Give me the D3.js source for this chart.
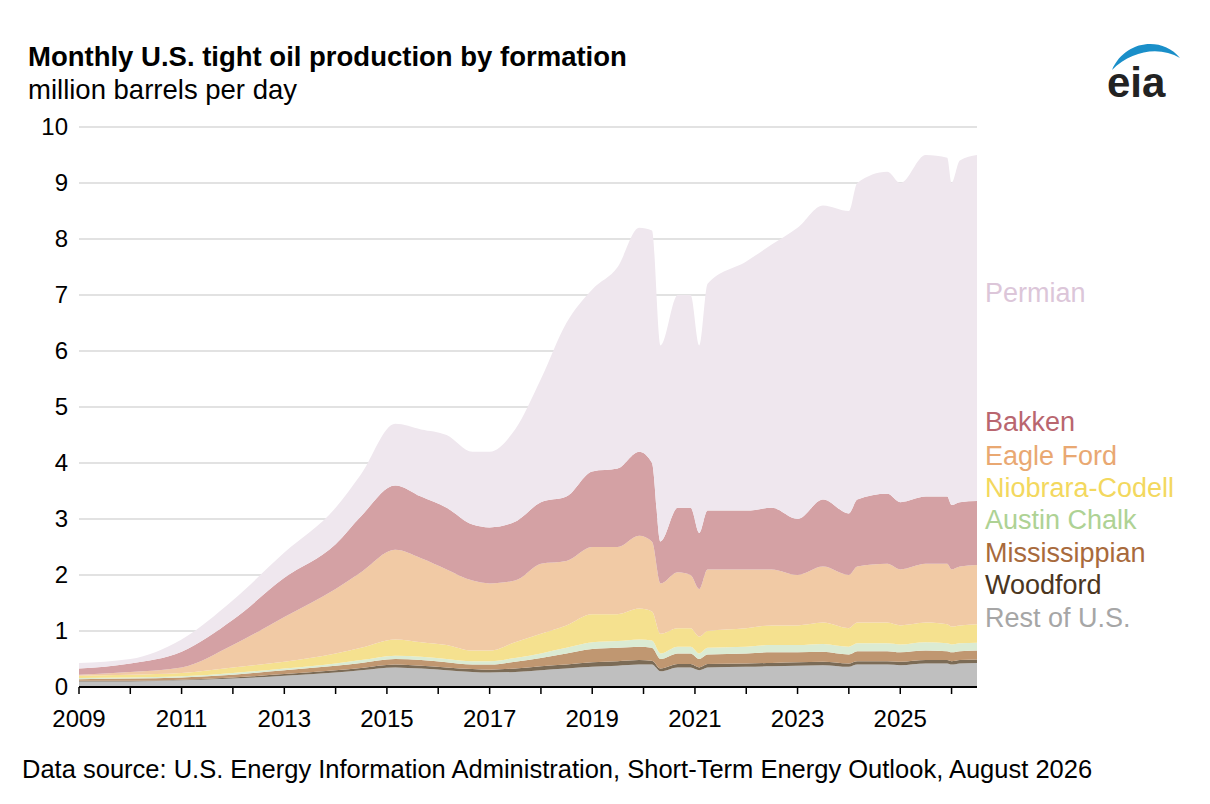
<!DOCTYPE html>
<html><head><meta charset="utf-8">
<script src="https://cdn.jsdelivr.net/npm/d3@7.9.0/dist/d3.min.js"></script>
<style>body{margin:0;background:#fff}svg{font-family:Arial,"Liberation Sans",sans-serif}</style>
</head><body><svg id="chart" width="1210" height="804"></svg>
<script>
const dates = ["2009-01","2010-01","2011-01","2012-01","2013-01","2014-01","2014-07","2015-03","2015-09","2016-03","2016-09","2017-01","2017-07","2018-01","2018-07","2019-01","2019-07","2019-12","2020-03","2020-05","2020-09","2020-12","2021-02","2021-04","2022-01","2022-07","2023-01","2023-07","2024-01","2024-03","2024-10","2025-01","2025-07","2025-12","2026-01","2026-03","2026-07"];
const restUS =   [.10,.10,.12,.15,.20,.26,.30,.35,.33,.30,.27,.26,.27,.30,.33,.36,.38,.40,.40,.28,.35,.35,.30,.35,.36,.37,.38,.39,.36,.40,.40,.39,.42,.42,.40,.42,.43];
const woodford = [.01,.01,.01,.02,.03,.04,.04,.05,.05,.05,.05,.05,.06,.07,.07,.08,.08,.08,.07,.05,.06,.06,.05,.06,.06,.06,.06,.06,.06,.06,.06,.06,.06,.06,.06,.06,.06];
const mississippian = [.03,.04,.04,.05,.07,.08,.09,.10,.10,.09,.08,.09,.12,.15,.20,.24,.24,.24,.23,.17,.19,.19,.15,.17,.18,.19,.18,.18,.16,.18,.18,.17,.17,.16,.16,.16,.16];
const austinChalk = [.02,.02,.02,.03,.03,.04,.05,.06,.06,.06,.06,.06,.07,.08,.10,.12,.12,.13,.13,.10,.12,.12,.10,.12,.12,.13,.13,.14,.14,.14,.14,.14,.15,.14,.14,.14,.14];
const niobrara = [.04,.05,.06,.10,.12,.18,.22,.29,.26,.25,.19,.19,.28,.35,.40,.50,.48,.55,.52,.35,.33,.33,.30,.30,.33,.35,.35,.38,.33,.37,.37,.34,.35,.34,.32,.32,.33];
const eagleFord = [.02,.05,.10,.40,.80,1.15,1.35,1.60,1.50,1.35,1.25,1.20,1.10,1.25,1.15,1.20,1.20,1.30,1.25,.90,1.00,.95,.85,1.10,1.05,1.00,.90,1.00,.95,1.00,1.05,1.00,1.05,1.08,1.02,1.05,1.06];
const bakken = [.11,.15,.28,.45,.70,.80,1.00,1.15,1.10,1.10,1.00,1.00,1.05,1.10,1.15,1.35,1.40,1.50,1.40,.75,1.15,1.20,1.00,1.05,1.05,1.10,1.00,1.20,1.10,1.20,1.25,1.20,1.20,1.20,1.15,1.15,1.14];
const permian = [.10,.08,.22,.35,.45,.65,.75,1.10,1.20,1.30,1.30,1.35,1.65,2.20,3.10,3.25,3.60,4.00,4.15,3.50,3.80,3.80,3.35,4.05,4.45,4.70,5.20,5.25,5.40,5.65,5.75,5.70,6.10,6.05,5.75,6.10,6.18];
const seriesNames = ["Rest of U.S.","Woodford","Mississippian","Austin Chalk","Niobrara-Codell","Eagle Ford","Bakken","Permian"];
const seriesValues = [restUS,woodford,mississippian,austinChalk,niobrara,eagleFord,bakken,permian];
const fills = ["#bfbfbf","#7b6b56","#c09771","#dbebd3","#f5e18f","#f1caa5","#d4a1a4","#efe7ee"];
const labelColors = ["#a6a6a6","#4b3621","#a86a3c","#aed294","#f3d85e","#e9a872","#b9666f","#dcc6d9"];
const labelY = [618,585,553,520,488,456,422,293];
const yTicks = d3.range(0,11);
const xTickYears = d3.range(2009,2027);

const svg = d3.select("#chart");
const parse = d3.timeParse("%Y-%m");
const rows = dates.map((d,i) => {
  const r = {date: parse(d)};
  seriesNames.forEach((n,k) => r[n] = seriesValues[k][i]);
  return r;
});
const x = d3.scaleTime().domain([new Date(2009,0,1), parse("2026-07")]).range([79,977]);
const y = d3.scaleLinear().domain([0,10]).range([687,127]);

// gridlines
svg.append("g").selectAll("line").data(yTicks.slice(1)).join("line")
  .attr("x1",79).attr("x2",977).attr("y1",d=>y(d)).attr("y2",d=>y(d))
  .attr("stroke","#d9d9d9").attr("stroke-width",1.5);

const stack = d3.stack().keys(seriesNames)(rows);
const area = d3.area().x(d=>x(d.data.date)).y0(d=>y(d[0])).y1(d=>y(d[1])).curve(d3.curveMonotoneX);
svg.append("g").selectAll("path").data(stack).join("path")
  .attr("d",area).attr("fill",(d,i)=>fills[i]);

// y labels
svg.append("g").selectAll("text").data(yTicks).join("text")
  .attr("x",68).attr("y",d=>y(d)+8).attr("text-anchor","end")
  .attr("font-size",24).attr("fill","#000").text(d=>d);

// x axis
const xg = svg.append("g");
xg.append("line").attr("x1",79).attr("x2",977).attr("y1",687).attr("y2",687).attr("stroke","#000").attr("stroke-width",2);
xg.selectAll(".tk").data(xTickYears).join("line")
  .attr("x1",d=>x(new Date(d,0,1))).attr("x2",d=>x(new Date(d,0,1)))
  .attr("y1",687).attr("y2",694).attr("stroke","#000").attr("stroke-width",1.5);
xg.selectAll("text").data(xTickYears.filter(d=>(d-2009)%2===0)).join("text")
  .attr("x",d=>x(new Date(d,0,1))).attr("y",727).attr("text-anchor","middle")
  .attr("font-size",24).text(d=>d);

// series labels
svg.append("g").selectAll("text").data(seriesNames).join("text")
  .attr("x",985).attr("y",(d,i)=>labelY[i]+9).attr("font-size",27)
  .attr("fill",(d,i)=>labelColors[i]).text(d=>d);

// titles
svg.append("text").attr("x",28).attr("y",66).attr("font-size",27.5).attr("font-weight","bold").text("Monthly U.S. tight oil production by formation");
svg.append("text").attr("x",28).attr("y",99).attr("font-size",27.5).text("million barrels per day");
svg.append("text").attr("x",22).attr("y",778).attr("font-size",25.5).text("Data source: U.S. Energy Information Administration, Short-Term Energy Outlook, August 2026");

// eia logo
svg.append("path").attr("d","M1112,70 C1125,40 1162,36 1180,58 C1160,46 1132,50 1112,70 Z").attr("fill","#1a8fc9");
svg.append("text").attr("x",1107).attr("y",97).attr("font-size",42).attr("font-weight","bold").attr("fill","#222").text("eia");
</script></body></html>
